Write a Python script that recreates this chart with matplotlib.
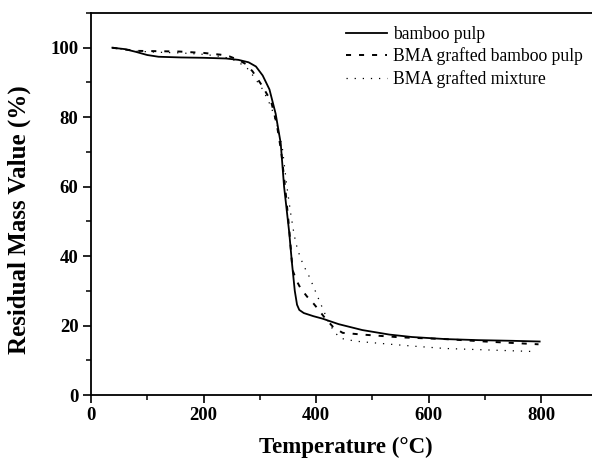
import matplotlib
matplotlib.use("Agg")
import matplotlib.pyplot as plt
from matplotlib.ticker import MultipleLocator

plt.rcParams['font.family'] = ['Liberation Serif', 'DejaVu Serif']

# TGA curves: temperature (°C) and residual mass (%)
pulp_T = [38, 60, 80, 100, 120, 160, 200, 240, 262, 280, 293, 305, 317, 328, 337,
          343, 352, 357, 362, 366, 370, 378, 395, 411, 440, 482, 530, 570, 630,
          688, 750, 797]
pulp_m = [100, 99.6, 98.8, 97.9, 97.4, 97.2, 97.1, 96.9, 96.5, 95.8, 94.6, 92,
          88, 81, 72.5, 60, 47, 38, 30, 26, 24.5, 23.6, 22.7, 22.0, 20.4, 18.7,
          17.4, 16.7, 16.1, 15.8, 15.6, 15.4]

grafted_T = [38, 60, 81, 120, 157, 200, 230, 246, 262, 275, 287, 305, 320, 330,
             338, 346, 352, 358, 365, 372, 384, 396, 405, 414, 430, 447, 482,
             550, 629, 700, 795]
grafted_m = [100, 99.5, 99.1, 99.0, 98.9, 98.5, 98.0, 97.5, 96.5, 95.3, 93.2,
             88.8, 84.5, 78, 70, 58, 48, 36, 33, 30.8, 28.3, 26.2, 24.4, 22.5,
             19.6, 17.9, 17.4, 16.6, 16.1, 15.4, 14.6]

mixture_T = [38, 60, 81, 120, 160, 200, 230, 250, 265, 278, 290, 305, 320, 332,
             340, 348, 355, 361, 367, 377, 388, 397, 405, 414, 423, 433, 444,
             470, 511, 570, 629, 700, 790]
mixture_m = [100, 99.5, 99.0, 98.7, 98.5, 98.1, 97.5, 96.8, 95.5, 94, 91.5, 88,
             83, 77, 71, 60, 52, 46, 41.8, 37.5, 34, 30.5, 27.4, 24, 20.6, 18,
             16.3, 15.5, 14.9, 14.1, 13.4, 13.0, 12.5]

fig = plt.figure(figsize=(5.92, 4.63), dpi=100)
ax = fig.add_axes([91 / 592, 1 - 395 / 463, 501 / 592, 382 / 463])

ax.plot(pulp_T, pulp_m, color='black', lw=1.3, label='bamboo pulp')
ax.plot(grafted_T, grafted_m, color='black', lw=1.4, linestyle=(0, (2.6, 4.1)),
        label='BMA grafted bamboo pulp')
ax.plot(mixture_T, mixture_m, color='black', lw=0.9, linestyle=(0, (1, 5.5)),
        label='BMA grafted mixture')

ax.set_xlim(0, 890)
ax.set_ylim(0, 110)
ax.xaxis.set_major_locator(MultipleLocator(200))
ax.xaxis.set_minor_locator(MultipleLocator(100))
ax.yaxis.set_major_locator(MultipleLocator(20))
ax.yaxis.set_minor_locator(MultipleLocator(10))

ax.spines['right'].set_visible(False)
for s in ['left', 'bottom', 'top']:
    ax.spines[s].set_linewidth(1.3)

ax.tick_params(which='major', direction='out', length=6, width=1.2,
               labelsize=13.5, pad=3)
ax.tick_params(which='minor', direction='out', length=3.5, width=1.1)
for lab in ax.get_xticklabels() + ax.get_yticklabels():
    lab.set_fontweight('bold')

ax.set_xlabel('Temperature (°C)', fontsize=16.5, fontweight='bold')
ax.xaxis.set_label_coords(0.508, -0.11)
ax.set_ylabel('Residual Mass Value (%)', fontsize=18, fontweight='bold')
ax.yaxis.set_label_coords(-0.12, 0.46)

ax.legend(loc='upper left', bbox_to_anchor=(346 / 592, 1 - 26 / 463),
          bbox_transform=fig.transFigure, frameon=False, fontsize=12.7,
          borderpad=0, borderaxespad=0, labelspacing=0.26,
          handlelength=2.3, handletextpad=0.35)

fig.savefig('out.png', dpi=100)
